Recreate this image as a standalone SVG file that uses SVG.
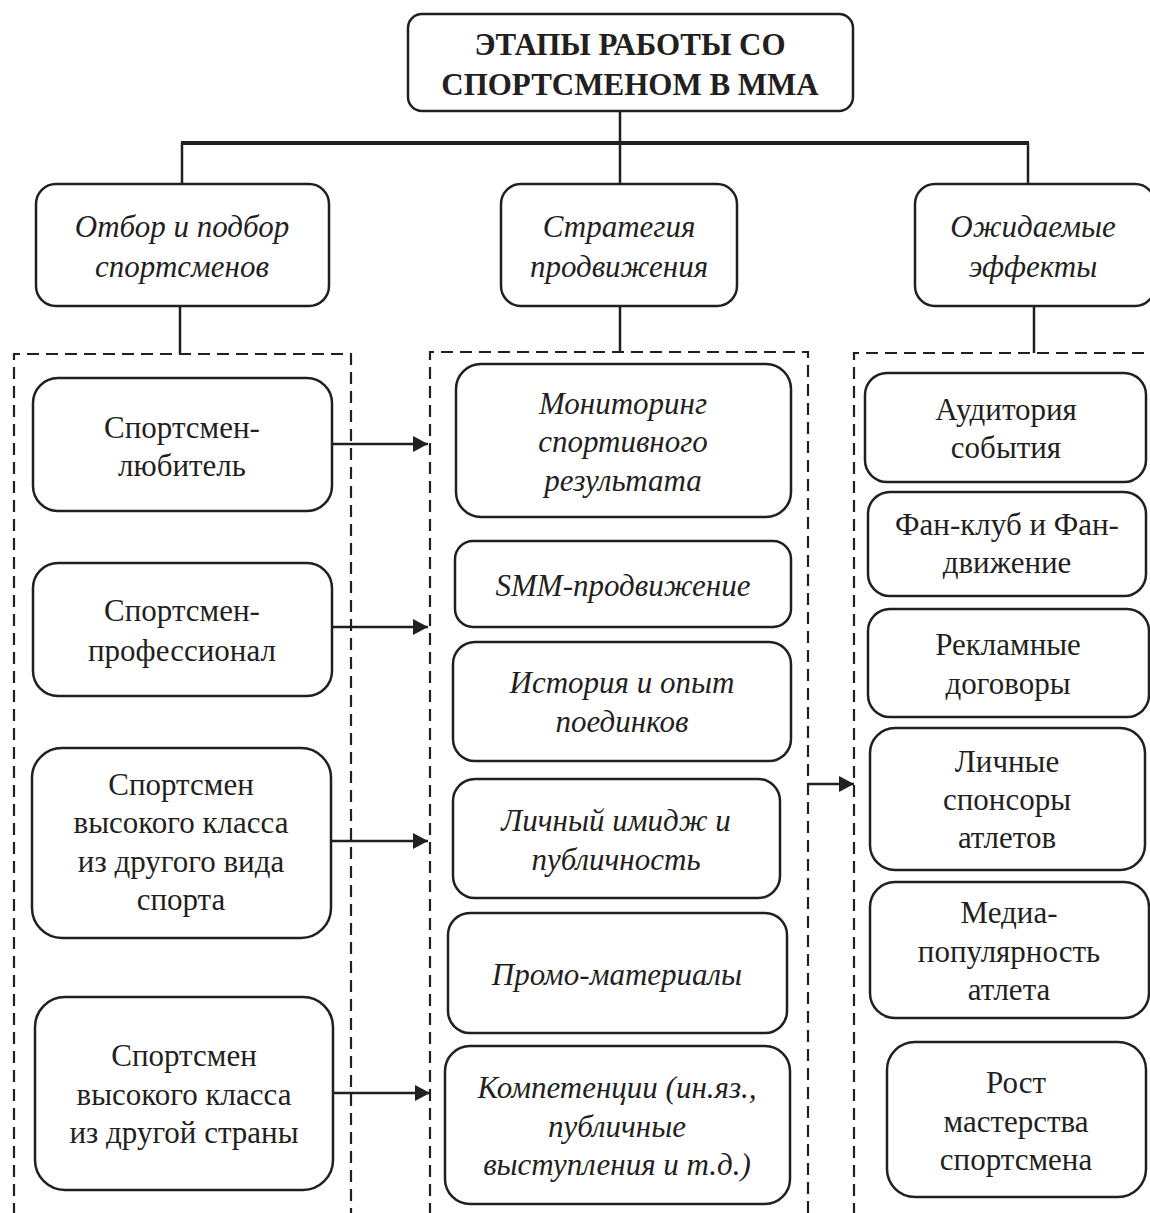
<svg xmlns="http://www.w3.org/2000/svg" width="1150" height="1213" viewBox="0 0 1150 1213">
<style>
.bg{fill:#ffffff}
.box{fill:#ffffff;stroke:#231f20;stroke-width:2.5}
.dash{fill:none;stroke:#231f20;stroke-width:2.2;stroke-dasharray:12 7}
.ln{fill:none;stroke:#231f20;stroke-width:2.5}
.bar{fill:none;stroke:#231f20;stroke-width:4}
text{font-family:"Liberation Serif","Times New Roman",serif;fill:#231f20;text-anchor:middle}
.t{font-size:31px;font-weight:bold}
.c{font-size:31px;font-style:italic}
.n{font-size:31px}
.i{font-size:31px;font-style:italic}
</style>
<defs>
<marker id="ah" viewBox="0 0 15 16" refX="15" refY="8" markerWidth="15" markerHeight="16" markerUnits="userSpaceOnUse" orient="auto">
<path d="M0,0 L15,8 L0,16 z" fill="#231f20"/>
</marker>
</defs>
<rect class="bg" x="0" y="0" width="1150" height="1213"/>

<g id="connectors">
<line class="ln" x1="620" y1="111" x2="620" y2="143"/>
<line class="bar" x1="181" y1="143" x2="1029" y2="143"/>
<line class="ln" x1="182" y1="143" x2="182" y2="184"/>
<line class="ln" x1="620" y1="143" x2="620" y2="184"/>
<line class="ln" x1="1028" y1="143" x2="1028" y2="184"/>
<line class="ln" x1="180" y1="306" x2="180" y2="354"/>
<line class="ln" x1="620" y1="306" x2="620" y2="352"/>
<line class="ln" x1="1034" y1="306" x2="1034" y2="353"/>
<line class="ln" x1="332" y1="444" x2="428" y2="444" marker-end="url(#ah)"/>
<line class="ln" x1="332" y1="627" x2="428" y2="627" marker-end="url(#ah)"/>
<line class="ln" x1="331" y1="841" x2="428" y2="841" marker-end="url(#ah)"/>
<line class="ln" x1="333" y1="1093" x2="430" y2="1093" marker-end="url(#ah)"/>
<line class="ln" x1="808" y1="784" x2="854" y2="784" marker-end="url(#ah)"/>
</g>

<g id="dashed-groups">
<path class="dash" d="M14,1215 L14,354 L351,354 L351,1215"/>
<path class="dash" d="M430,1215 L430,352 L808,352 L808,1215"/>
<path class="dash" d="M854,1215 L854,353 L1152,353"/>
</g>

<g id="title">
<rect class="box" x="408" y="14" width="445" height="97" rx="14"/>
<text class="t" x="630" y="55">ЭТАПЫ РАБОТЫ СО</text>
<text class="t" x="630" y="95">СПОРТСМЕНОМ В ММА</text>
</g>

<g id="cat-selection">
<rect class="box" x="36" y="184" width="293" height="122" rx="20"/>
<text class="c" x="182" y="237">Отбор и подбор</text>
<text class="c" x="182" y="277">спортсменов</text>
</g>
<g id="cat-strategy">
<rect class="box" x="501" y="184" width="236" height="122" rx="20"/>
<text class="c" x="619" y="237">Стратегия</text>
<text class="c" x="619" y="277">продвижения</text>
</g>
<g id="cat-effects">
<rect class="box" x="915" y="184" width="240" height="122" rx="20"/>
<text class="c" x="1033" y="237">Ожидаемые</text>
<text class="c" x="1033" y="277">эффекты</text>
</g>

<g id="l1">
<rect class="box" x="33" y="378" width="299" height="133" rx="25"/>
<text class="n" x="182" y="438">Спортсмен-</text>
<text class="n" x="182" y="476">любитель</text>
</g>
<g id="l2">
<rect class="box" x="33" y="563" width="299" height="133" rx="25"/>
<text class="n" x="182" y="621">Спортсмен-</text>
<text class="n" x="182" y="661">профессионал</text>
</g>
<g id="l3">
<rect class="box" x="32" y="748" width="299" height="190" rx="30"/>
<text class="n" x="181" y="795">Спортсмен</text>
<text class="n" x="181" y="833">высокого класса</text>
<text class="n" x="181" y="872">из другого вида</text>
<text class="n" x="181" y="910">спорта</text>
</g>
<g id="l4">
<rect class="box" x="35" y="997" width="298" height="193" rx="30"/>
<text class="n" x="184" y="1066">Спортсмен</text>
<text class="n" x="184" y="1105">высокого класса</text>
<text class="n" x="184" y="1143">из другой страны</text>
</g>

<g id="m1">
<rect class="box" x="456" y="364" width="335" height="153" rx="25"/>
<text class="i" x="623" y="414">Мониторинг</text>
<text class="i" x="623" y="452">спортивного</text>
<text class="i" x="623" y="491">результата</text>
</g>
<g id="m2">
<rect class="box" x="455" y="541" width="336" height="86" rx="18"/>
<text class="i" x="623" y="596">SMM-продвижение</text>
</g>
<g id="m3">
<rect class="box" x="453" y="642" width="338" height="119" rx="22"/>
<text class="i" x="622" y="693">История и опыт</text>
<text class="i" x="622" y="732">поединков</text>
</g>
<g id="m4">
<rect class="box" x="453" y="779" width="327" height="119" rx="22"/>
<text class="i" x="616" y="831">Личный имидж и</text>
<text class="i" x="616" y="870">публичность</text>
</g>
<g id="m5">
<rect class="box" x="448" y="913" width="339" height="120" rx="22"/>
<text class="i" x="617" y="985">Промо-материалы</text>
</g>
<g id="m6">
<rect class="box" x="445" y="1046" width="345" height="158" rx="25"/>
<text class="i" x="617" y="1098">Компетенции (ин.яз.,</text>
<text class="i" x="617" y="1137">публичные</text>
<text class="i" x="617" y="1175">выступления и т.д.)</text>
</g>

<g id="r1">
<rect class="box" x="865" y="373" width="281" height="109" rx="22"/>
<text class="n" x="1006" y="420">Аудитория</text>
<text class="n" x="1006" y="458">события</text>
</g>
<g id="r2">
<rect class="box" x="868" y="492" width="278" height="104" rx="22"/>
<text class="n" x="1007" y="535">Фан-клуб и Фан-</text>
<text class="n" x="1007" y="573">движение</text>
</g>
<g id="r3">
<rect class="box" x="868" y="609" width="281" height="108" rx="22"/>
<text class="n" x="1008" y="655">Рекламные</text>
<text class="n" x="1008" y="694">договоры</text>
</g>
<g id="r4">
<rect class="box" x="870" y="728" width="275" height="142" rx="25"/>
<text class="n" x="1007" y="772">Личные</text>
<text class="n" x="1007" y="810">спонсоры</text>
<text class="n" x="1007" y="848">атлетов</text>
</g>
<g id="r5">
<rect class="box" x="870" y="882" width="279" height="136" rx="25"/>
<text class="n" x="1009" y="923">Медиа-</text>
<text class="n" x="1009" y="962">популярность</text>
<text class="n" x="1009" y="1000">атлета</text>
</g>
<g id="r6">
<rect class="box" x="887" y="1042" width="259" height="155" rx="28"/>
<text class="n" x="1016" y="1093">Рост</text>
<text class="n" x="1016" y="1132">мастерства</text>
<text class="n" x="1016" y="1170">спортсмена</text>
</g>
</svg>
